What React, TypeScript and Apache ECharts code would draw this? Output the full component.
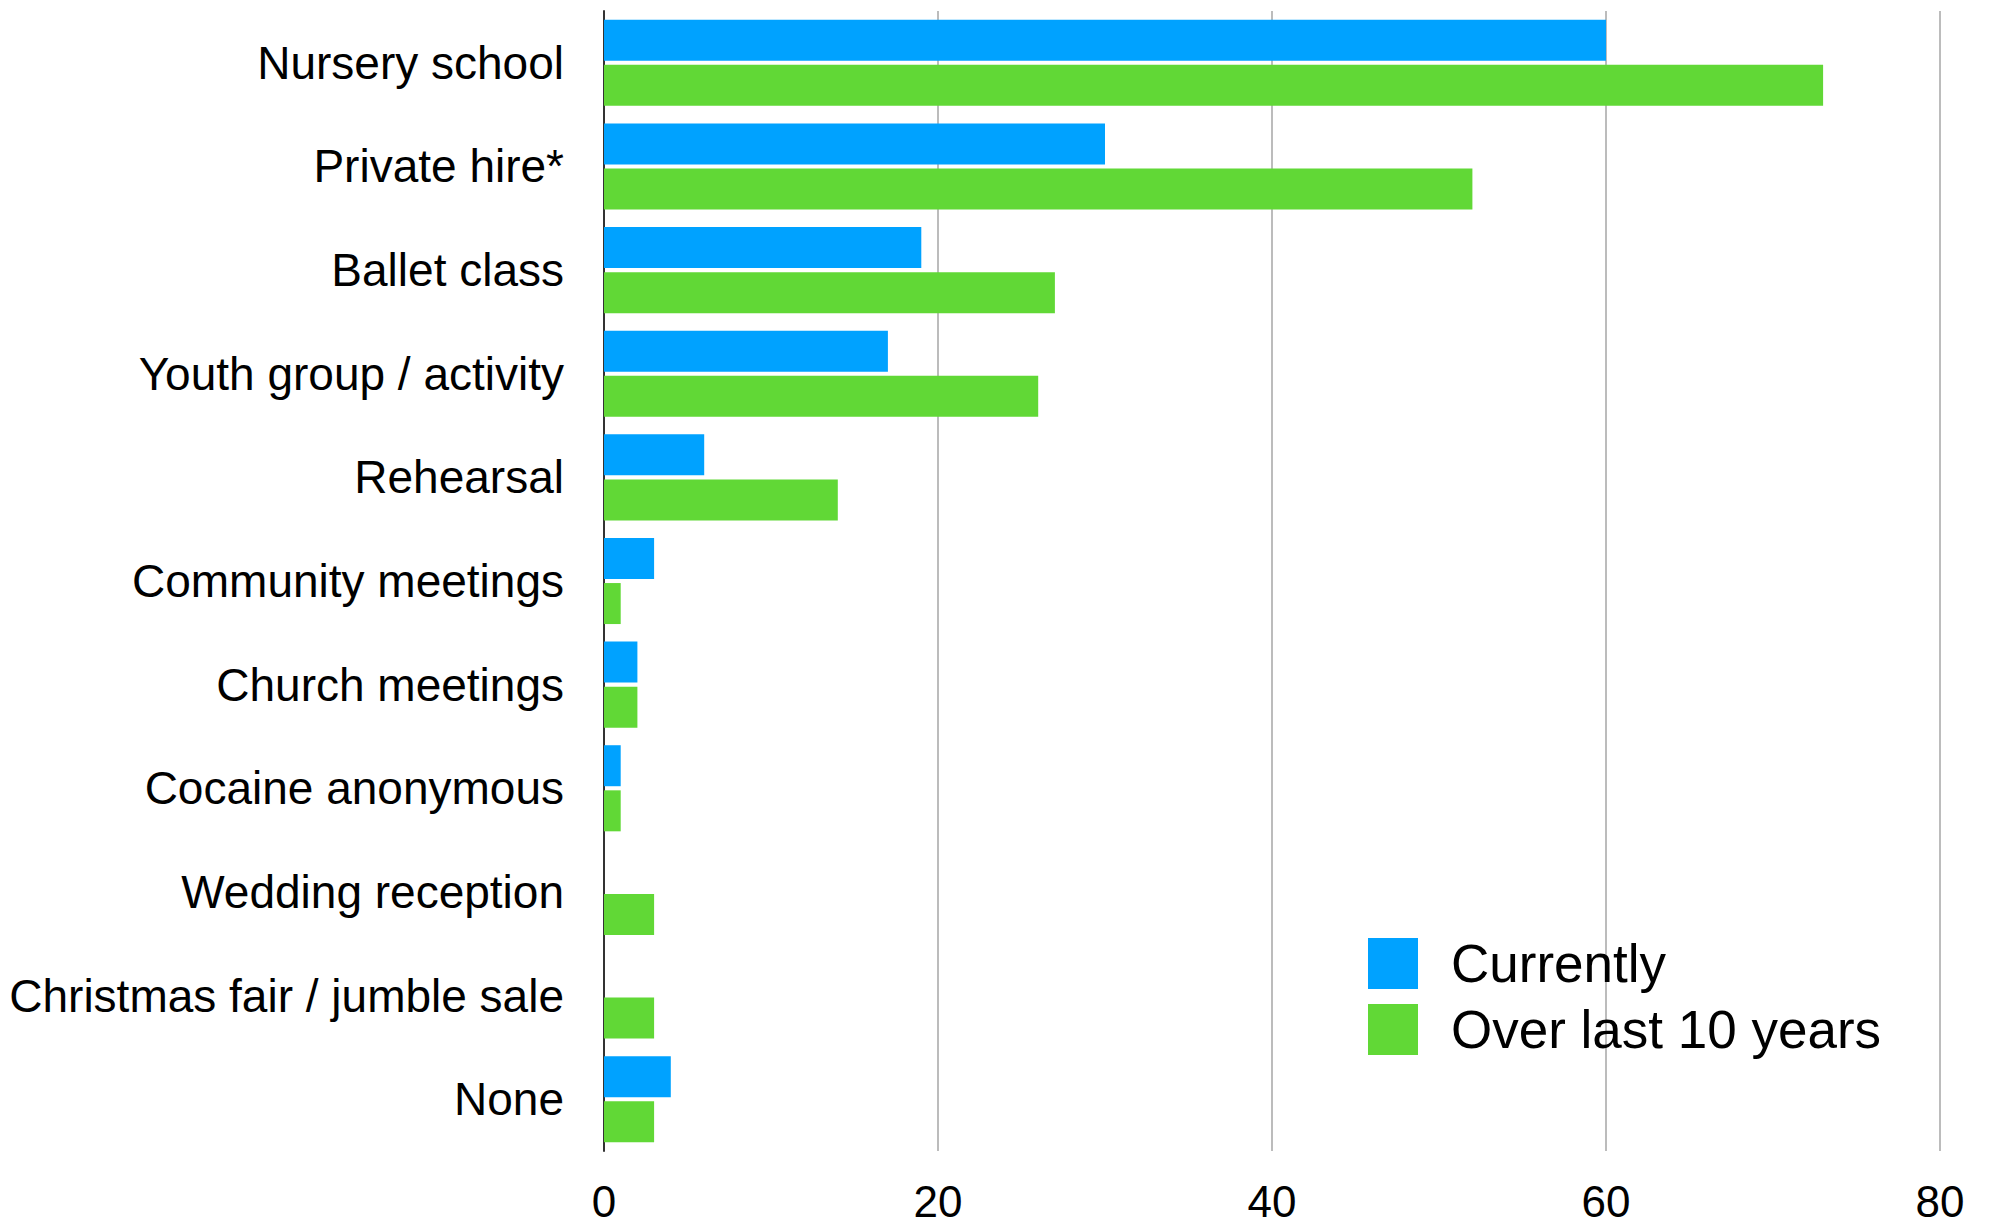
import React, { useEffect, useRef } from "react";
import * as echarts from "echarts";

const categories = [
  "Nursery school",
  "Private hire*",
  "Ballet class",
  "Youth group / activity",
  "Rehearsal",
  "Community meetings",
  "Church meetings",
  "Cocaine anonymous",
  "Wedding reception",
  "Christmas fair / jumble sale",
  "None",
];
const currently = [60, 30, 19, 17, 6, 3, 2, 1, 0, 0, 4];
const overLast10Years = [73, 52, 27, 26, 14, 1, 2, 1, 3, 3, 3];
const seriesNames = ["Currently", "Over last 10 years"];
const xTicks = { min: 0, max: 80, interval: 20 };

const FONT = "'Liberation Sans', Arial, Helvetica, sans-serif";

export default function App() {
  const ref = useRef<HTMLDivElement>(null);
  useEffect(() => {
    if (!ref.current) return;
    const chart = echarts.init(ref.current, undefined, { renderer: "svg" });
    chart.setOption({
      animation: false,
      backgroundColor: "#ffffff",
      textStyle: { fontFamily: FONT },
      grid: { left: 604, right: 53, top: 11, bottom: 73, containLabel: false },
      legend: {
        orient: "vertical",
        left: 1363,
        top: 932,
        icon: "rect",
        itemWidth: 50,
        itemHeight: 51,
        itemGap: 13,
        data: seriesNames,
        textStyle: {
          fontFamily: FONT,
          fontSize: 53,
          color: "#000",
          lineHeight: 51,
          padding: [0, 0, 0, 28],
        },
      },
      xAxis: {
        type: "value",
        min: xTicks.min,
        max: xTicks.max,
        interval: xTicks.interval,
        axisLine: { show: false },
        axisTick: { show: false },
        axisLabel: { fontSize: 44, color: "#000", margin: 28, fontFamily: FONT },
        splitLine: { show: true, lineStyle: { color: "#bcbcbc", width: 2 } },
      },
      yAxis: {
        type: "category",
        data: categories,
        inverse: true,
        axisLine: { show: true, lineStyle: { color: "#333", width: 2 } },
        axisTick: { show: false },
        axisLabel: { fontSize: 46, color: "#000", margin: 40, fontFamily: FONT },
        splitLine: { show: false },
      },
      series: [
        {
          name: seriesNames[0],
          type: "bar",
          data: currently,
          barWidth: 41,
          barGap: "10%",
          itemStyle: { color: "#00A2FF" },
        },
        {
          name: seriesNames[1],
          type: "bar",
          data: overLast10Years,
          barWidth: 41,
          barGap: "10%",
          itemStyle: { color: "#61D836" },
        },
      ],
    });
    return () => chart.dispose();
  }, []);
  return (
    <div
      ref={ref}
      style={{ position: "fixed", left: 0, top: 0, width: 1993, height: 1224 }}
    />
  );
}
